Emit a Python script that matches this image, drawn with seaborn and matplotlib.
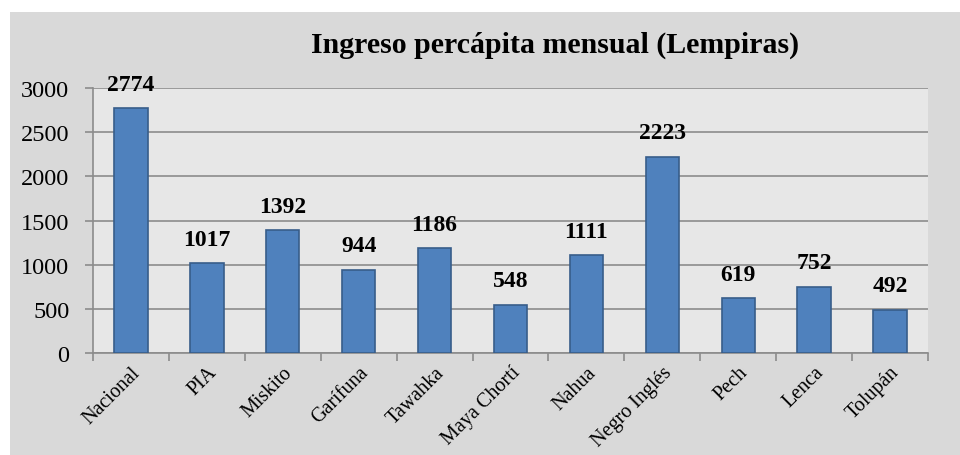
import numpy as np
import pandas as pd
import seaborn as sns
import matplotlib.pyplot as plt
from matplotlib.patches import Rectangle

# Data
grupos = ["Nacional", "PIA", "Miskito", "Garífuna", "Tawahka", "Maya Chortí",
          "Nahua", "Negro Inglés", "Pech", "Lenca", "Tolupán"]
ingreso = [2774, 1017, 1392, 944, 1186, 548, 1111, 2223, 619, 752, 492]
y_ticks = [0, 500, 1000, 1500, 2000, 2500, 3000]

df = pd.DataFrame({"grupo": grupos, "ingreso": ingreso})

sns.set_theme(style="white")
plt.rcParams['font.family'] = ['Liberation Serif', 'DejaVu Serif']
plt.rcParams['text.color'] = 'black'
plt.rcParams['xtick.color'] = 'black'
plt.rcParams['ytick.color'] = 'black'

fig = plt.figure(figsize=(9.6, 4.56), dpi=100)
fig.patch.set_facecolor("white")
# grey chart box (Excel-style chart area)
fig.patches.append(Rectangle((10 / 960, 0), 1 - 10 / 960, 1 - 13 / 456,
                             transform=fig.transFigure, facecolor="#D9D9D9",
                             edgecolor="none", zorder=-5))

ax = fig.add_axes([93 / 960, 102 / 456, 835 / 960, 265 / 456])
ax.set_facecolor("#E7E7E7")

sns.barplot(data=df, x="grupo", y="ingreso", color="#4F81BD", saturation=1,
            width=0.44, edgecolor="#385D8A", linewidth=1.2, ax=ax, zorder=3)

# value labels
for i, v in enumerate(ingreso):
    ax.annotate(str(v), (i, v), xytext=(0, 9.5), textcoords="offset points",
                ha="center", va="bottom", fontsize=17, fontweight="bold",
                zorder=5, annotation_clip=False)

ax.set_ylim(0, 3000)
ax.set_xlim(-0.5, len(grupos) - 0.5)
ax.set_yticks(y_ticks)
ax.set_yticklabels([str(t) for t in y_ticks], fontsize=17.5)
ax.yaxis.grid(True, color="#8C8C8C", linewidth=1.2, zorder=1)
ax.set_axisbelow(True)

ax.set_xticks(range(len(grupos)))
ax.set_xticklabels(grupos, rotation=45, ha="right", rotation_mode="anchor",
                   fontsize=14.5)
ax.set_xticks(np.arange(-0.5, len(grupos)), minor=True)
ax.tick_params(axis="x", which="major", length=0, pad=7)
ax.tick_params(axis="x", which="minor", length=6, width=1.2, color="#8C8C8C",
               direction="out", bottom=True)
ax.tick_params(axis="y", length=6, width=1.2, color="#8C8C8C", labelcolor="black",
               direction="out", left=True, pad=11)

for s in ["top", "right"]:
    ax.spines[s].set_visible(False)
for s in ["left", "bottom"]:
    ax.spines[s].set_color("#8C8C8C")
    ax.spines[s].set_linewidth(1.2)

ax.set_xlabel("")
ax.set_ylabel("")

fig.text(555 / 960, 1 - 45 / 456, "Ingreso percápita mensual (Lempiras)",
         ha="center", va="center", fontsize=21.5, fontweight="bold")

fig.savefig("out.png", dpi=100)
